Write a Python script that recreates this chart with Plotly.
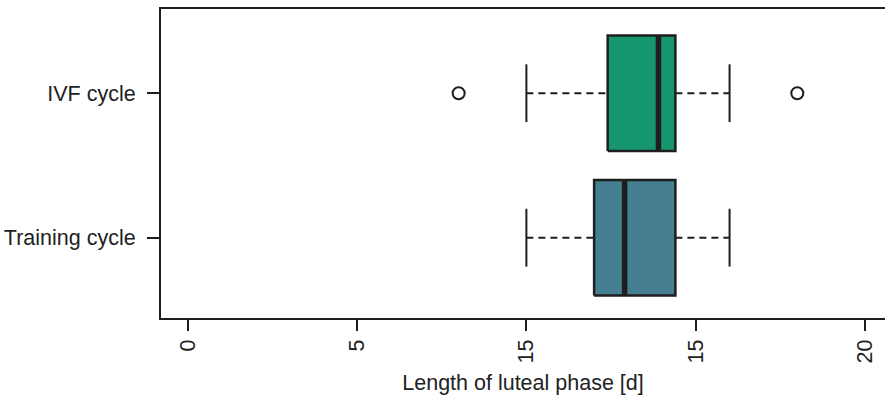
import plotly.graph_objects as go

# Luteal phase length per cycle type (days)
categories = ["Training cycle", "IVF cycle"]
lower_whisker = [10, 10]
q1 = [12.0, 12.4]
median = [12.9, 13.9]
q3 = [14.4, 14.4]
upper_whisker = [16, 16]
outliers = [[], [8, 18]]
box_colors = ["#467f91", "#16966e"]

x_tickvals = [0, 5, 10, 15, 20]
x_ticktext = ["0", "5", "15", "15", "20"]

edge = "#1e1e1e"
half_box = 0.4
half_cap = 0.2

fig = go.Figure()
for i, name in enumerate(categories):
    pos = i + 1
    # dashed whiskers
    for a, b in ((lower_whisker[i], q1[i]), (q3[i], upper_whisker[i])):
        fig.add_trace(go.Scatter(
            x=[a, b], y=[pos, pos], mode="lines",
            line=dict(color=edge, width=2, dash="7px,5px"),
            hoverinfo="skip", showlegend=False))
    # whisker caps
    for w in (lower_whisker[i], upper_whisker[i]):
        fig.add_trace(go.Scatter(
            x=[w, w], y=[pos - half_cap, pos + half_cap], mode="lines",
            line=dict(color=edge, width=2),
            hoverinfo="skip", showlegend=False))
    # box body
    fig.add_trace(go.Scatter(
        x=[q1[i], q3[i], q3[i], q1[i], q1[i]],
        y=[pos - half_box, pos - half_box, pos + half_box, pos + half_box, pos - half_box],
        mode="lines", fill="toself", fillcolor=box_colors[i],
        line=dict(color=edge, width=2.5), name=name, showlegend=False))
    # median bar
    fig.add_trace(go.Scatter(
        x=[median[i], median[i]], y=[pos - half_box, pos + half_box], mode="lines",
        line=dict(color=edge, width=5.5), hoverinfo="skip", showlegend=False))
    # outliers
    if outliers[i]:
        fig.add_trace(go.Scatter(
            x=outliers[i], y=[pos] * len(outliers[i]), mode="markers",
            marker=dict(symbol="circle-open", size=12, color=edge, line=dict(width=2)),
            showlegend=False))

font = dict(family="Liberation Sans, Arial, sans-serif", size=21.5, color="#222222")

fig.update_layout(
    width=885, height=398,
    margin=dict(l=161, r=0, t=9, b=80),
    paper_bgcolor="white", plot_bgcolor="white",
    font=font,
    xaxis=dict(
        range=[-0.79, 20.59], tickvals=x_tickvals, ticktext=x_ticktext,
        tickangle=-90, ticks="outside", ticklen=11, tickwidth=2, tickcolor=edge,
        showline=True, linewidth=2, linecolor=edge, mirror=True,
        showgrid=False, zeroline=False,
        title=dict(text="Length of luteal phase [d]", font=dict(size=21.5), standoff=12),
    ),
    yaxis=dict(
        range=[0.444, 2.583], tickvals=[1, 2], ticktext=categories,
        ticks="outside", ticklen=12, tickwidth=2, tickcolor=edge,
        ticklabelstandoff=7,
        showline=True, linewidth=2, linecolor=edge, mirror=False,
        showgrid=False, zeroline=False,
    ),
)

fig.write_html("out.html")
